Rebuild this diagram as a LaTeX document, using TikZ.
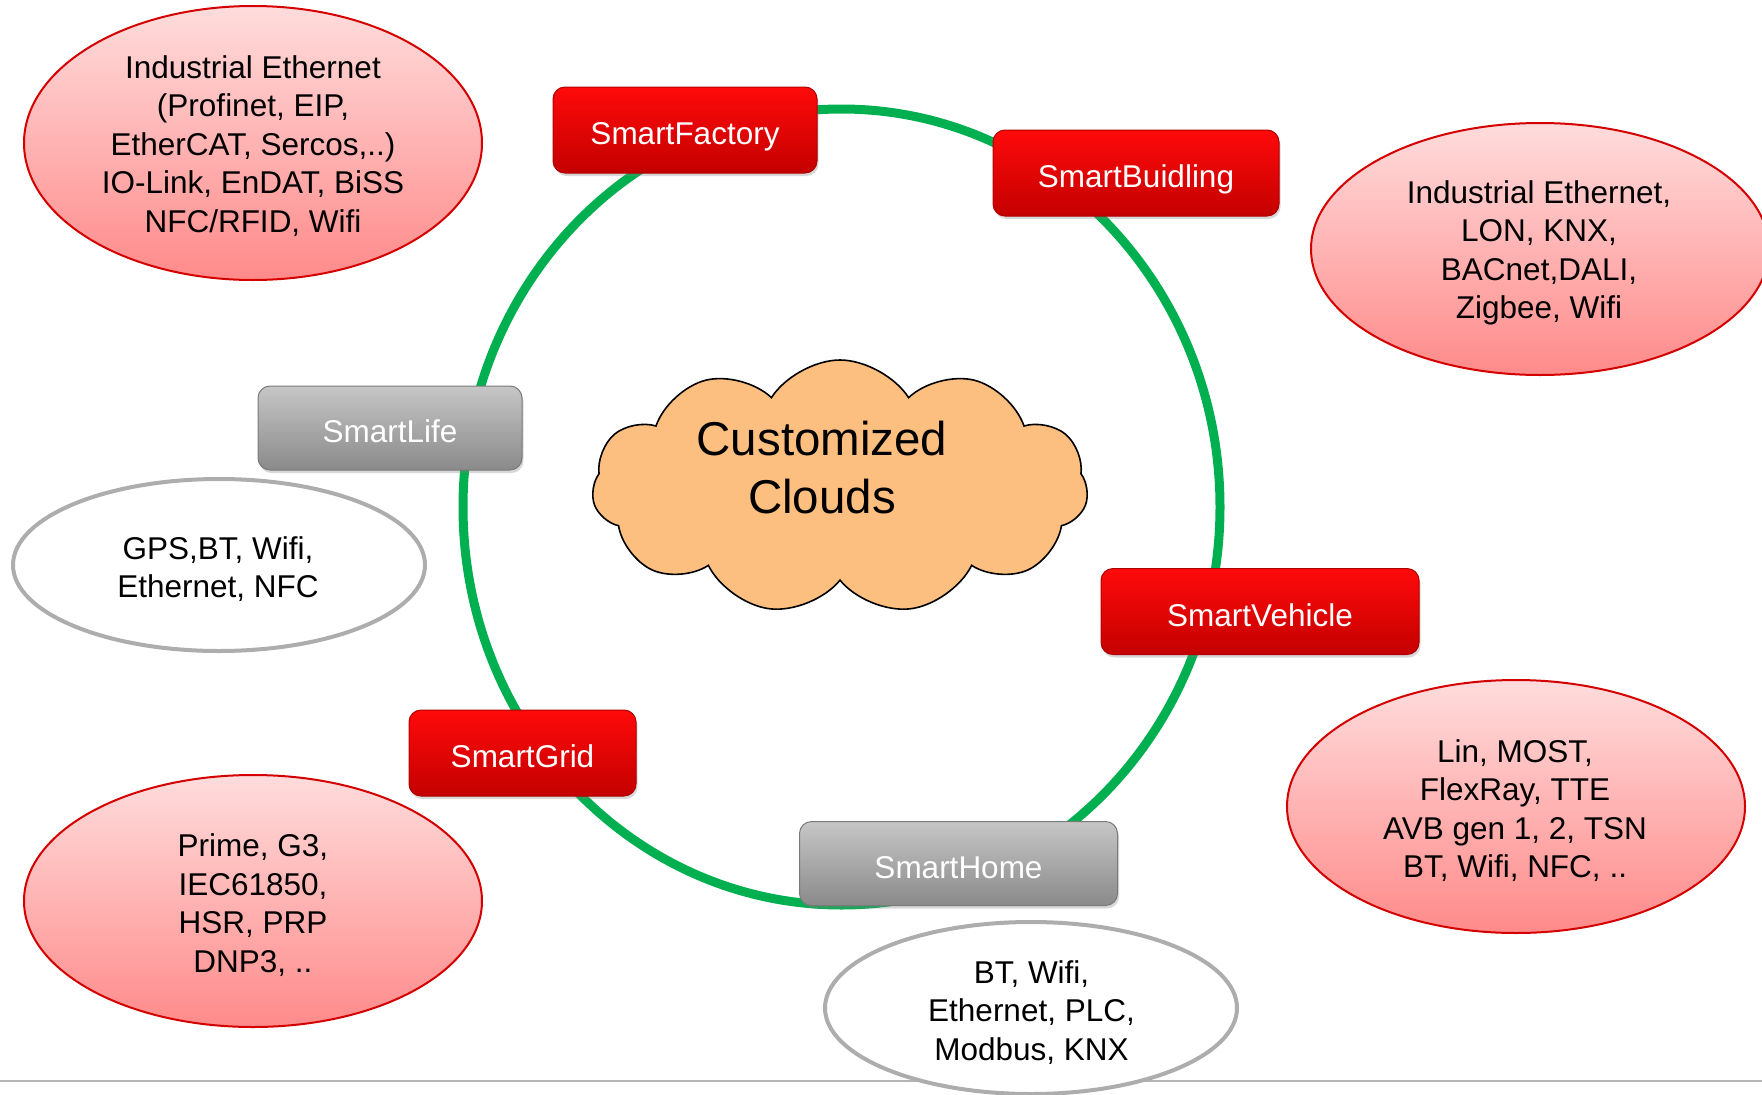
\documentclass[tikz,border=0pt]{standalone}
\usepackage{fontspec}
\setmainfont{Liberation Sans}
\usetikzlibrary{shapes.geometric,shapes.symbols,shadows}
\definecolor{ringgreen}{HTML}{00B050}
\definecolor{boxredtop}{HTML}{FF0A0A}
\definecolor{boxredbot}{HTML}{C40000}
\definecolor{boxredline}{HTML}{B00000}
\definecolor{boxgraytop}{HTML}{C6C6C6}
\definecolor{boxgraybot}{HTML}{8A8A8A}
\definecolor{boxgrayline}{HTML}{7A7A7A}
\definecolor{ovaltop}{HTML}{FFDCDC}
\definecolor{ovalbot}{HTML}{FF8A8A}
\definecolor{ovalline}{HTML}{D40000}
\definecolor{ovalgray}{HTML}{ADADAD}
\definecolor{cloudfill}{HTML}{FDBF80}
\definecolor{rulegray}{HTML}{B4B4B4}
\begin{document}
\begin{tikzpicture}[x=1pt,y=-1pt,
  every node/.style={inner sep=0pt, outer sep=0pt},
  txt/.style={align=center, font=\fontsize{31.5}{38.5}\selectfont, text=black},
  boxbase/.style={rectangle, rounded corners=12pt, line width=1pt,
    text=white, font=\fontsize{31.5}{38.5}\selectfont, text height=29pt, text depth=0pt,
    drop shadow={opacity=0.3, shadow xshift=1.5pt, shadow yshift=-3pt}},
  redbox/.style={boxbase, minimum width=#1, minimum height=86pt,
    top color=boxredtop, bottom color=boxredbot, draw=boxredline},
  graybox/.style={boxbase, minimum width=#1, minimum height=84pt,
    top color=boxgraytop, bottom color=boxgraybot, draw=boxgrayline},
  redoval/.style={ellipse, minimum width=458pt, minimum height=#1,
    top color=ovaltop, bottom color=ovalbot, draw=ovalline, line width=2pt},
  grayoval/.style={ellipse, minimum width=412pt, minimum height=172pt,
    fill=white, draw=ovalgray, line width=4pt},
  ring/.style={draw=ringgreen, line width=9pt}
]
\useasboundingbox (0,0) rectangle (1762,1095);
\fill[white] (0,0) rectangle (1762,1095);

% bottom rule
\coordinate (ruleL) at (0,1081);
\coordinate (ruleR) at (1762,1081);
\draw[rulegray, line width=2.5pt] (ruleL) -- (ruleR);

% green ring
\coordinate (ringc) at (841.5,507);
\draw[ring] (ringc) ellipse [x radius=378.5pt, y radius=398pt];

% ovals
\node[redoval=274pt] (ovFactory) at (253,143) {};
\node[txt] (tFactory) at (253,146) {Industrial Ethernet\\(Profinet, EIP,\\EtherCAT, Sercos,..)\\IO-Link, EnDAT, BiSS\\NFC/RFID, Wifi};

\node[redoval=252pt] (ovBuilding) at (1540,249) {};
\node[txt] (tBuilding) at (1539,253) {Industrial Ethernet,\\LON, KNX,\\BACnet,DALI,\\Zigbee, Wifi};

\node[redoval=253pt] (ovVehicle) at (1516,806.5) {};
\node[txt] (tVehicle) at (1515,810.5) {Lin, MOST,\\FlexRay, TTE\\AVB gen 1, 2, TSN\\BT, Wifi, NFC, ..};

\node[redoval=252pt] (ovGrid) at (253,901) {};
\node[txt] (tGrid) at (253,905) {Prime, G3,\\IEC61850,\\HSR, PRP\\DNP3, ..};

\node[grayoval] (ovLife) at (219,565) {};
\node[txt] (tLife) at (218,569) {GPS,BT, Wifi,\\Ethernet, NFC};

\node[grayoval] (ovHome) at (1031,1008) {};
\node[txt] (tHome) at (1031.5,1012.5) {BT, Wifi,\\Ethernet, PLC,\\Modbus, KNX};

% cloud
\node[cloud, cloud puffs=11, cloud puff arc=115, aspect=1.96, minimum width=496pt, minimum height=254pt,
  fill=cloudfill, draw=black, line width=1.6pt] (cloud) at (840,487) {};
\node[align=center, font=\fontsize{47.5}{58}\selectfont] (tCloud) at (822,468) {Customized\\Clouds};

% boxes
\node[redbox=264pt] (bFactory) at (685,130) {SmartFactory};
\node[redbox=286pt] (bBuilding) at (1136,173) {SmartBuidling};
\node[redbox=318pt] (bVehicle) at (1260,611.5) {SmartVehicle};
\node[redbox=227pt] (bGrid) at (522.5,753) {SmartGrid};
\node[graybox=264pt] (bLife) at (390,428) {SmartLife};
\node[graybox=318pt] (bHome) at (958.5,863.5) {SmartHome};
\end{tikzpicture}
\end{document}
